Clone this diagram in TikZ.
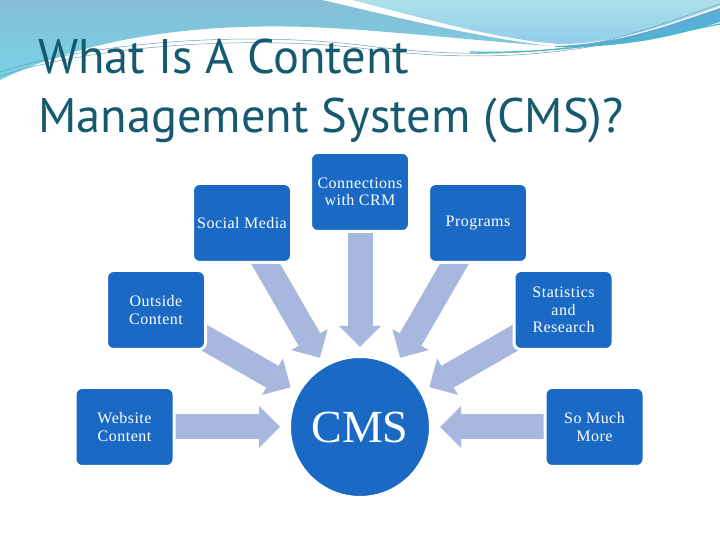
\documentclass[tikz,border=0pt]{standalone}
\usepackage{fontspec}
\setmainfont{Liberation Serif}
\newfontfamily\titlefont{PT Sans}
\newfontfamily\boxfont[LetterSpace=3]{Liberation Serif}
\usetikzlibrary{arrows.meta,calc,backgrounds}
\definecolor{boxblue}{RGB}{26,105,196}
\definecolor{arrowcol}{RGB}{167,183,222}
\definecolor{titlecol}{RGB}{22,90,112}
\definecolor{bannerAtop}{RGB}{134,190,214}
\definecolor{bannerAbot}{RGB}{118,210,228}
\definecolor{bannerBtop}{RGB}{172,224,232}
\definecolor{bannerBbot}{RGB}{145,205,236}
\definecolor{bannerC}{RGB}{88,176,216}
\definecolor{bannerLine}{RGB}{64,190,200}
\definecolor{thinLine}{RGB}{110,160,175}
\begin{document}
\begin{tikzpicture}[x=1pt,y=1pt,
  box/.style={rectangle, rounded corners=7pt, fill=boxblue, draw=white, line width=3pt,
    minimum width=99pt, minimum height=79pt, text=white, align=center,
    font=\boxfont\fontsize{16}{17.5}\selectfont, inner sep=2pt},
  hub/.style={circle, fill=boxblue, draw=white, line width=3pt, minimum size=141pt,
    text=white, font=\fontsize{46}{50}\selectfont},
  blockarrow/.style={color=arrowcol, line width=25pt,
    -{Triangle[width=42pt,length=21pt,line width=0pt]}},
  titletext/.style={anchor=base west, inner sep=0pt, text=titlecol,
    font=\titlefont\fontsize{48.5}{52}\selectfont}]
\useasboundingbox (0,0) rectangle (720,540);
\begin{scope}[on background layer]
  \fill[white] (0,0) rectangle (720,540);
\end{scope}

% banner (pixel coordinates, y downwards)
\begin{scope}[shift={(0,540)}, yscale=-1]
  \shade[top color=bannerAtop, bottom color=bannerAbot]
    (0,0) -- (322,0) .. controls (400,18) and (470,36) .. (550,46)
    .. controls (470,40) and (400,32) .. (330,28)
    .. controls (220,22) and (100,32) .. (0,80) -- cycle;
  \shade[top color=bannerBtop, bottom color=bannerBbot]
    (352,0) -- (720,0) -- (720,6)
    .. controls (660,28) and (610,44) .. (560,44)
    .. controls (500,40) and (430,20) .. (352,0) -- cycle;
  \fill[bannerC]
    (555,46) .. controls (620,44) and (670,25) .. (720,8)
    -- (720,22) .. controls (670,38) and (620,48) .. (555,47) -- cycle;
  \draw[bannerLine, line width=1.2pt]
    (470,52) .. controls (540,54) and (620,45) .. (720,24);
  \draw[thinLine, line width=0.5pt]
    (0,72) .. controls (100,40) and (250,32) .. (360,45)
    .. controls (450,57) and (530,56) .. (600,42)
    .. controls (650,30) and (690,14) .. (720,4);
  \draw[thinLine, line width=0.5pt]
    (0,76) .. controls (100,44) and (250,36) .. (360,48)
    .. controls (450,60) and (530,58) .. (600,45)
    .. controls (650,34) and (690,18) .. (720,10);
\end{scope}

% title
\node[titletext] (t1) at (38,466) {What Is A Content};
\node[titletext] (t2) at (38,407) {Management System (CMS)?};

% hub and boxes
\node[hub] (cms) at (360,113) {CMS};
\node[box] (sm) at (242,317) {Social Media};
\node[box] (crm) at (360,348) {Connections\\with CRM};
\node[box] (prog) at (478,317) {Programs};
\node[box] (out) at (156,230) {Outside\\Content};
\node[box] (stat) at (563.5,230) {Statistics\\and\\Research};
\node[box] (web) at (124.5,113) {Website\\Content};
\node[box] (more) at (594.5,113) {So Much\\More};

% block arrows behind the boxes
\begin{scope}[on background layer]
  \foreach \b in {sm,crm,prog,out,stat,web,more}{
    \draw[blockarrow] (\b.center) -- ($(cms.center)!80pt!(\b.center)$);
  }
\end{scope}
\end{tikzpicture}
\end{document}
